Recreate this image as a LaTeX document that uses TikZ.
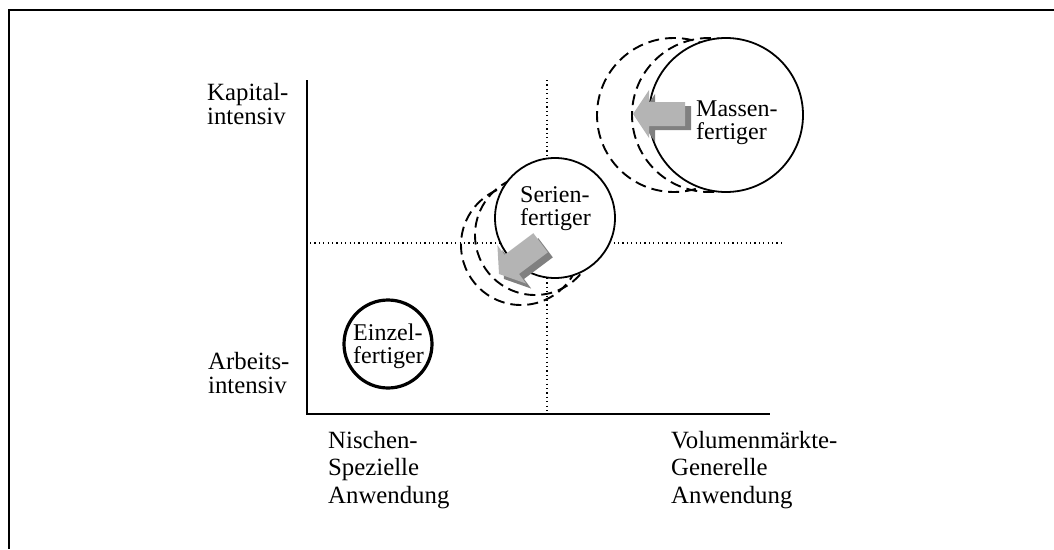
\documentclass[tikz,border=0pt]{standalone}
\usepackage{fontspec}
\setmainfont{Liberation Serif}
\definecolor{lightg}{HTML}{B4B4B4}
\definecolor{darkg}{HTML}{808080}
\tikzset{
  blockarrow/.pic={\path[pic actions] (0,0) -- (-16,-24) -- (-16,-12) -- (-52,-12) -- (-52,12) -- (-16,12) -- (-16,24) -- cycle;}
}
\begin{document}
\begin{tikzpicture}[x=1pt,y=-1pt,
  lbl/.style={font=\fontsize{24.8}{24}\selectfont, align=left, inner sep=0pt, anchor=base west},
  lblwide/.style={lbl, font=\fontsize{24.8}{27.5}\selectfont},
  inlbl/.style={lbl, font=\fontsize{24}{23}\selectfont},
  frameline/.style={line width=2.4pt},
  axisline/.style={line width=1.8pt},
  guide/.style={line width=1.1pt, dash pattern=on 1.1pt off 3.3pt},
  ring/.style={circle, draw, fill=white, line width=1.8pt, inner sep=0pt},
  ghost/.style={circle, draw, line width=1.9pt, inner sep=0pt, dash pattern=on 11pt off 6pt},
]
\useasboundingbox (0,0) rectangle (1054,549);
% frame (top and left only)
\coordinate (fTR) at (1054,10);
\coordinate (fTL) at (9,10);
\coordinate (fBL) at (9,549);
\draw[frameline] (fTR) -- (fTL) -- (fBL);
% axes
\coordinate (Ytop) at (307,80);
\coordinate (O) at (307,414);
\coordinate (Xend) at (770,414);
\draw[axisline] (Ytop) -- (O) -- (Xend);
% dotted guides
\coordinate (vT) at (547,80);
\coordinate (vB) at (547,414);
\coordinate (hL) at (310,243);
\coordinate (hR) at (783,243);
\draw[guide] (vT) -- (vB);
\draw[guide] (hL) -- (hR);
% axis labels (anchored at the baseline of the last line)
\node[lbl] (kap) at (207,124) {Kapital-\\intensiv};
\node[lbl] (arb) at (208,393) {Arbeits-\\intensiv};
\node[lblwide] (nis) at (328,503) {Nischen-\\Spezielle\\Anwendung};
\node[lblwide] (vol) at (671,503) {Volumenmärkte-\\Generelle\\Anwendung};
% Einzelfertiger
\node[ring, line width=3.2pt, minimum size=88pt] (einzel) at (388,344) {};
\node[inlbl] (einzelT) at (353,363) {Einzel-\\fertiger};
% Serienfertiger
\node[ghost, minimum size=120pt] (serG2) at (521,245) {};
\node[ghost, minimum size=120pt] (serG1) at (535,235) {};
\node[ring, minimum size=120pt] (serien) at (555,218) {};
\node[inlbl] (serienT) at (520,225) {Serien-\\fertiger};
\pic[rotate=216.9, fill=darkg] at (504,279) {blockarrow};
\pic[rotate=216.9, fill=lightg] at (499,274) {blockarrow};
% Massenfertiger
\node[ghost, minimum size=154pt] (masG2) at (674,115) {};
\node[ghost, minimum size=154pt] (masG1) at (709,115) {};
\node[ring, minimum size=154pt] (massen) at (726,115) {};
\node[inlbl] (massenT) at (696,139) {Massen-\\fertiger};
\pic[rotate=180, fill=darkg] at (639,118) {blockarrow};
\pic[rotate=180, fill=lightg] at (633,114) {blockarrow};
\end{tikzpicture}
\end{document}
